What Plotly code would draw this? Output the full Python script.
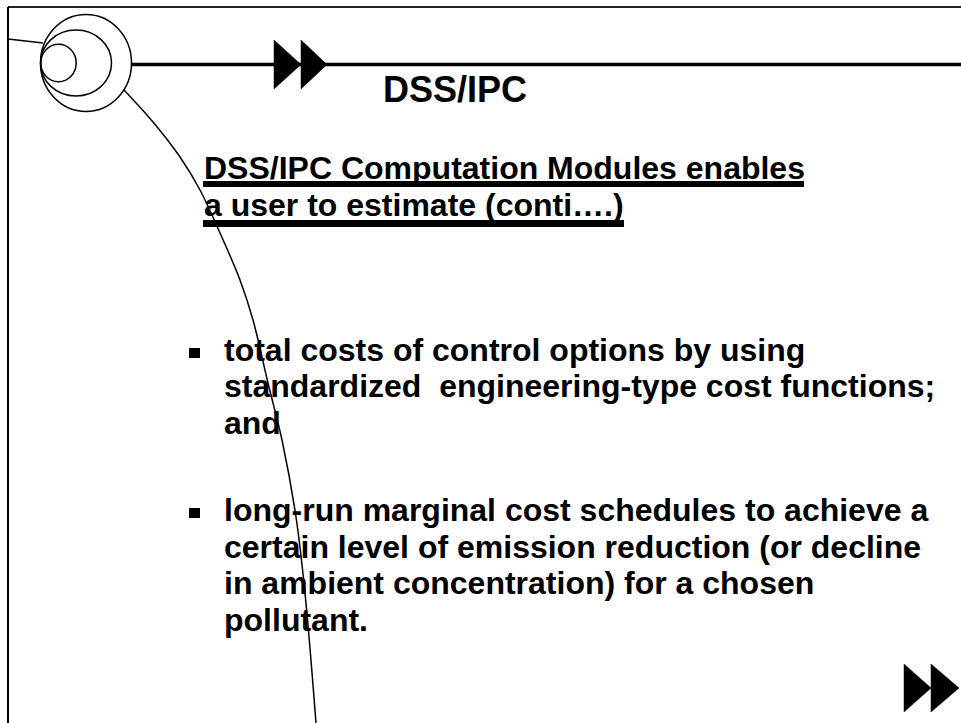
import plotly.graph_objects as go

# ---- slide content (text) ----
title_text = "DSS/IPC"
heading_lines = ["DSS/IPC Computation Modules enables",
                 "a user to estimate (conti\u2026.)"]
bullet1_lines = ["total costs of control options by using",
                 "standardized\u00a0 engineering-type cost functions;",
                 "and"]
bullet2_lines = ["long-run marginal cost schedules to achieve a",
                 "certain level of emission reduction (or decline",
                 "in ambient concentration) for a chosen",
                 "pollutant."]

W, H = 961, 723
FONT = "Liberation Sans, Arial, Helvetica, sans-serif"

fig = go.Figure()

# decorative arc (sweeping curve from the circle logo to the bottom)
arc_x = [124, 153, 180, 200, 220, 240, 253, 268, 282, 296, 305, 316]
arc_y = [90, 122, 157, 190, 233, 280, 320, 383, 440, 517, 593, 723]
fig.add_trace(go.Scatter(x=arc_x, y=arc_y, mode="lines",
                         line=dict(color="black", width=1.5, shape="spline", smoothing=1.0),
                         hoverinfo="skip", showlegend=False))

shapes = []
# frame: top and left border
shapes.append(dict(type="line", x0=8, y0=7, x1=W, y1=7, line=dict(color="#222", width=2)))
shapes.append(dict(type="line", x0=8, y0=7, x1=8, y1=H, line=dict(color="black", width=2)))
# small line from left border into logo
shapes.append(dict(type="line", x0=8, y0=39, x1=43, y1=43, line=dict(color="black", width=1.5)))
# logo circles
for cx, cy, rx, ry in [(86, 63, 45.5, 48.5), (76, 63, 35.5, 33), (58.5, 63, 17.7, 18.7)]:
    shapes.append(dict(type="circle", x0=cx - rx, x1=cx + rx, y0=cy - ry, y1=cy + ry,
                       line=dict(color="black", width=1.5), fillcolor="rgba(0,0,0,0)"))
# thick horizontal rule
shapes.append(dict(type="line", x0=131, y0=64.5, x1=W, y1=64.5, line=dict(color="black", width=3.5)))


def tri(xl, yc, w, h):
    return dict(type="path",
                path=f"M {xl},{yc - h / 2} L {xl + w},{yc} L {xl},{yc + h / 2} Z",
                fillcolor="black", line=dict(color="black", width=0.5))


# double triangles on the rule
shapes.append(tri(274, 64.5, 27, 49))
shapes.append(tri(301, 64.5, 26, 49))
# double triangles bottom right
shapes.append(tri(904, 688, 27, 48))
shapes.append(tri(931, 688, 28, 48))

# heading underlines (thick)
shapes.append(dict(type="rect", x0=203, x1=804, y0=181, y1=187, fillcolor="black", line=dict(width=0)))
shapes.append(dict(type="rect", x0=203, x1=624, y0=220, y1=227, fillcolor="black", line=dict(width=0)))

# bullets
shapes.append(dict(type="rect", x0=189, x1=200, y0=348, y1=358, fillcolor="black", line=dict(width=0)))
shapes.append(dict(type="rect", x0=189, x1=200, y0=508, y1=518, fillcolor="black", line=dict(width=0)))

fig.update_layout(shapes=shapes)


def add_text(text, x, baseline, size):
    fig.add_annotation(x=x, y=baseline - 0.35 * size, xref="x", yref="y",
                       text=f"<b>{text}</b>", showarrow=False,
                       xanchor="left", yanchor="middle", align="left",
                       font=dict(family=FONT, size=size, color="black"),
                       borderpad=0)


add_text(title_text, 382, 102, 36)
for i, t in enumerate(heading_lines):
    add_text(t, 203, 179 + 37 * i, 32)
for i, t in enumerate(bullet1_lines):
    add_text(t, 223, 361 + 36.5 * i, 32)
for i, t in enumerate(bullet2_lines):
    add_text(t, 223, 521 + 36.7 * i, 32)

fig.update_layout(
    width=W, height=H,
    margin=dict(l=0, r=0, t=0, b=0),
    paper_bgcolor="white", plot_bgcolor="white",
    xaxis=dict(range=[0, W], visible=False, fixedrange=True),
    yaxis=dict(range=[H, 0], visible=False, fixedrange=True),
    showlegend=False,
)

fig.write_html("out.html", config={"displayModeBar": False, "staticPlot": True},
               post_script="document.body.style.margin='0';document.body.style.overflow='hidden';")
